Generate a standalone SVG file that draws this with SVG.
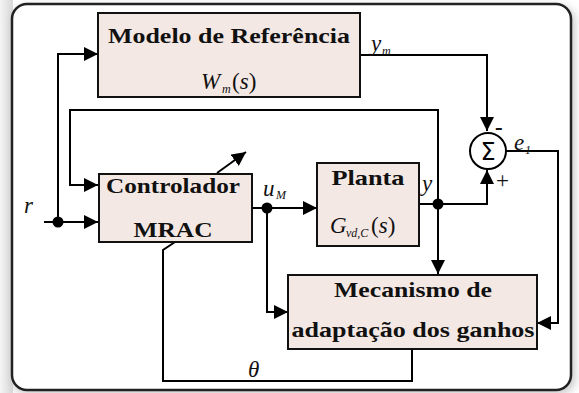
<svg xmlns="http://www.w3.org/2000/svg" width="579" height="393" viewBox="0 0 579 393">
<defs>
<style>
.box{fill:#f4e8e4;stroke:#111;stroke-width:2}
.ln{fill:none;stroke:#000;stroke-width:2}
.b{font-family:'Liberation Serif','Times New Roman',serif;font-weight:700;font-size:22px;fill:#111;text-anchor:middle}
.m{font-family:'Liberation Serif','Times New Roman',serif;font-style:italic;font-size:23px;fill:#111}
.s{font-family:'Liberation Serif','Times New Roman',serif;font-style:italic;font-size:12px;fill:#111}
.r{font-family:'Liberation Serif','Times New Roman',serif;font-size:23px;fill:#111}
</style>
<marker id="ah2" viewBox="0 0 10 10" refX="10" refY="5" markerWidth="14" markerHeight="14" orient="auto" markerUnits="userSpaceOnUse">
<path d="M0,0 L10,5 L0,10 z" fill="#000"/>
</marker>
<linearGradient id="lg" x1="0" y1="0" x2="1" y2="0">
<stop offset="0" stop-color="#f4f4f4"/>
<stop offset="1" stop-color="#d8d8d8"/>
</linearGradient>
<filter id="sh" x="-10%" y="-10%" width="120%" height="120%">
<feGaussianBlur stdDeviation="4"/>
</filter>
</defs>
<rect x="0" y="0" width="579" height="393" fill="#fff"/>
<rect x="0" y="0" width="13" height="393" fill="url(#lg)"/>
<rect x="12" y="6" width="563" height="388" rx="15" fill="#c8c8c8" filter="url(#sh)"/>
<rect x="12" y="4" width="559" height="386" rx="15" fill="#fff" stroke="#222" stroke-width="2.5"/>

<g id="connectors">
<path class="ln" d="M44,222 H98" marker-end="url(#ah2)"/>
<path class="ln" d="M58,222 V54 H98" marker-end="url(#ah2)"/>
<path class="ln" d="M360,55 H487 V131" marker-end="url(#ah2)"/>
<path class="ln" d="M438,204 V110 H70 V185 H98" marker-end="url(#ah2)"/>
<path class="ln" d="M252,208 H317" marker-end="url(#ah2)"/>
<path class="ln" d="M267,208 V312 H288" marker-end="url(#ah2)"/>
<path class="ln" d="M419,204 H487 V170" marker-end="url(#ah2)"/>
<path class="ln" d="M438,204 V274" marker-end="url(#ah2)"/>
<path class="ln" d="M506,151 H558 V323 H537" marker-end="url(#ah2)"/>
<path class="ln" d="M412,349 V381 H163 V250 L175,242"/>
<path class="ln" d="M217,173 L246,152" marker-end="url(#ah2)"/>
<circle cx="58" cy="222" r="5.5" fill="#000"/>
<circle cx="267" cy="208" r="5.5" fill="#000"/>
<circle cx="438" cy="204" r="5.5" fill="#000"/>
<text class="m" x="24" y="213">r</text>
<text class="m" x="371" y="51">y</text><text class="s" x="382" y="55">m</text>
<text class="m" x="263" y="196">u</text><text class="s" x="276" y="199">M</text>
<text class="m" x="422" y="191">y</text>
<text class="m" x="514" y="150">e</text><text class="s" x="525" y="154">1</text>
<text class="m" x="248" y="377">θ</text>
<text class="r" x="495" y="135" font-size="20" font-weight="bold">-</text>
<text class="r" x="496" y="188" font-size="26">+</text>
</g>

<g id="modelo">
<rect class="box" x="98" y="13" width="262" height="84"/>
<text class="b" x="229" y="43" textLength="242" lengthAdjust="spacingAndGlyphs">Modelo de Referência</text>
<text class="m" x="201" y="89">W</text><text class="s" x="222" y="93">m</text><text class="r" x="232" y="89">(<tspan font-style="italic">s</tspan>)</text>
</g>

<g id="sum">
<circle cx="488" cy="151" r="18" fill="#fff" stroke="#000" stroke-width="2"/>
<text x="488" y="160" font-family="'DejaVu Sans',sans-serif" font-size="24" text-anchor="middle" fill="#000">Σ</text>
</g>

<g id="controlador">
<rect class="box" x="99" y="174" width="153" height="68"/>
<text class="b" x="173" y="193" textLength="134" lengthAdjust="spacingAndGlyphs">Controlador</text>
<text class="b" x="173" y="237" textLength="79" lengthAdjust="spacingAndGlyphs">MRAC</text>
</g>

<g id="planta">
<rect class="box" x="317" y="163" width="102" height="83"/>
<text class="b" x="368" y="185" textLength="73" lengthAdjust="spacingAndGlyphs">Planta</text>
<text class="m" x="330" y="233">G</text><text class="s" x="346" y="237">vd,C</text><text class="r" x="371" y="233">(<tspan font-style="italic">s</tspan>)</text>
</g>

<g id="mecanismo">
<rect class="box" x="288" y="275" width="249" height="74"/>
<text class="b" x="413" y="297" textLength="158" lengthAdjust="spacingAndGlyphs">Mecanismo de</text>
<text class="b" x="413" y="337" textLength="243" lengthAdjust="spacingAndGlyphs">adaptação dos ganhos</text>
</g>
</svg>
